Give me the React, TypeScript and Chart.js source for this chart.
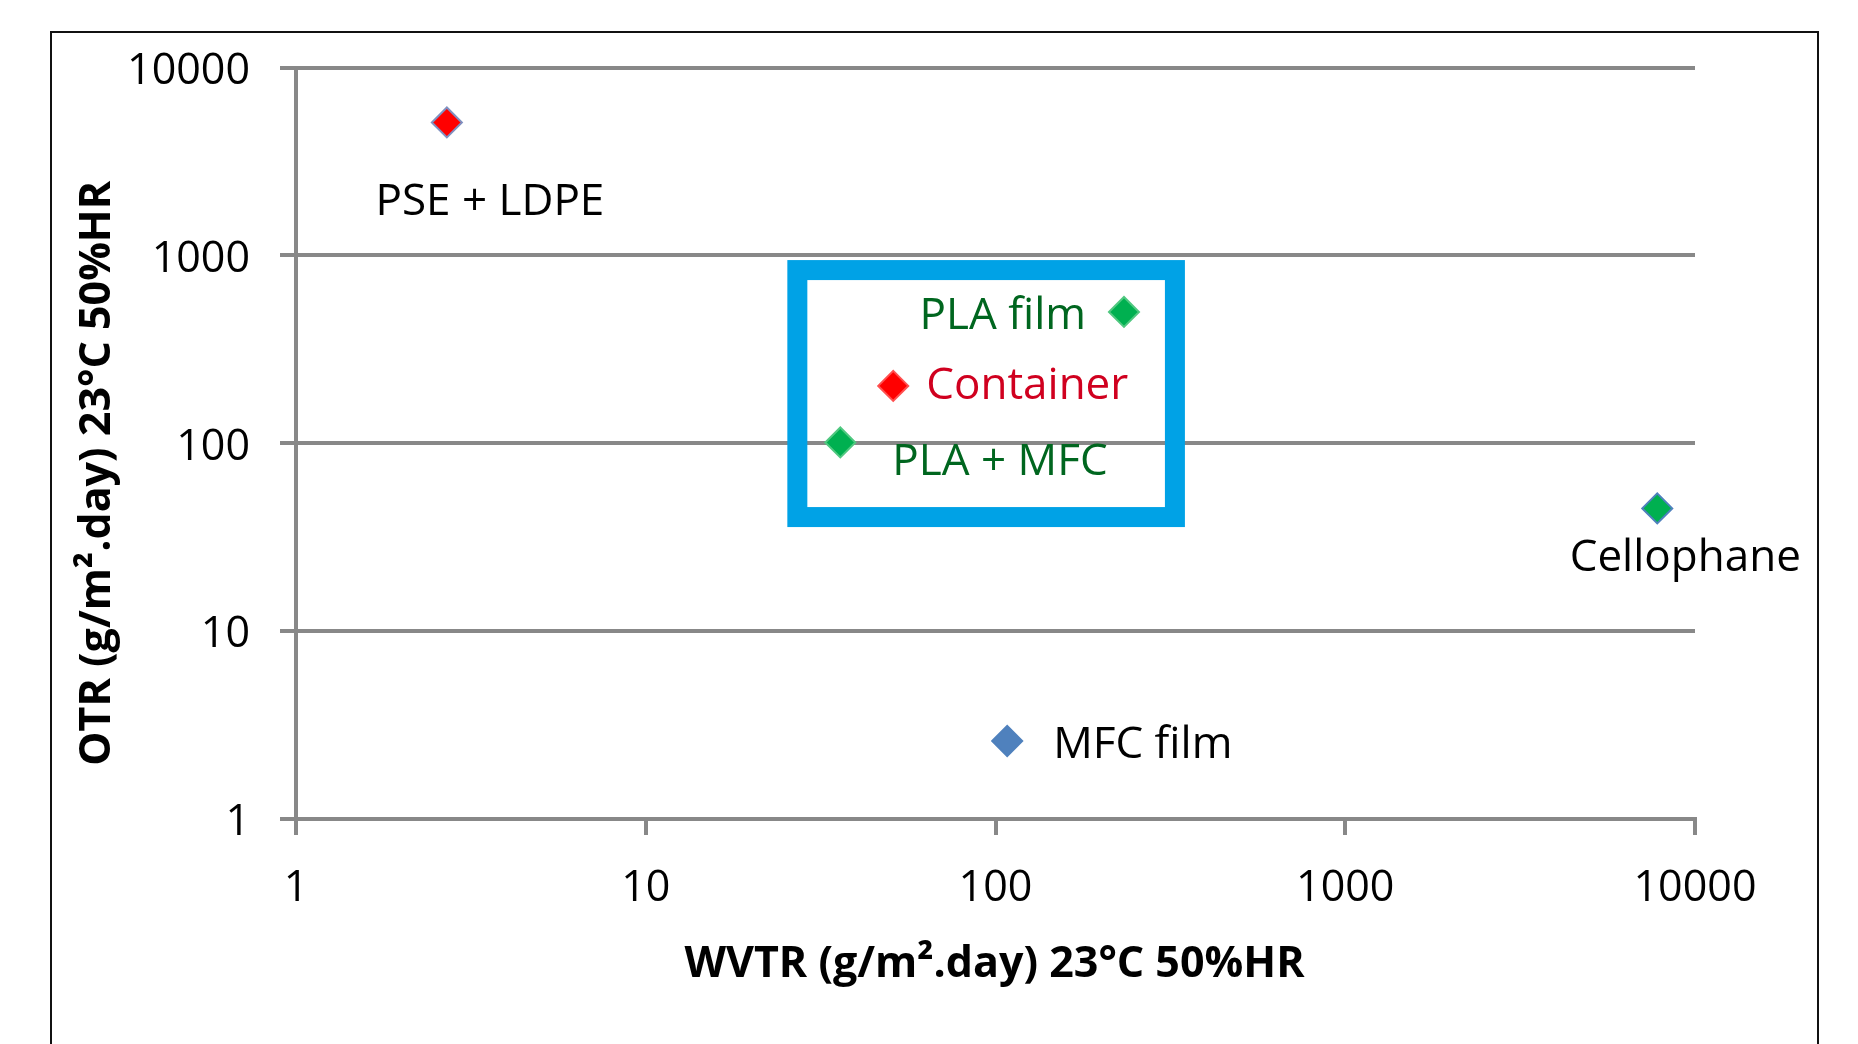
import React, { useEffect, useRef } from 'react';
import { Chart, registerables } from 'chart.js';

Chart.register(...registerables);

// ---- data ----
const materials = ['PSE + LDPE', 'PLA film', 'Container', 'PLA + MFC', 'Cellophane', 'MFC film'];
const wvtr = [2.7, 233, 51, 36, 7800, 108];
const otr = [5100, 500, 202, 101, 45, 2.6];
const tickValues = [1, 10, 100, 1000, 10000];
const tickLabels = ['1', '10', '100', '1000', '10000'];
const xTitle = 'WVTR (g/m².day) 23°C 50%HR';
const yTitle = 'OTR (g/m².day) 23°C 50%HR';
// highlighted region (data coordinates)
const highlightX = [25.4, 348];
const highlightY = [35.8, 944];

// ---- styles ----
const markerColors = ['#FF0000', '#00B050', '#FF0000', '#00B050', '#00B050', '#4F81BD'];
const markerBorders = ['#8090C0', '#50C880', '#FF5050', '#50C880', '#4F81BD', '#4F81BD'];
const labelColors = ['#000000', '#00661F', '#D0001F', '#00661F', '#000000', '#000000'];
// label placement relative to marker: dx, dy (cap centre), alignment
const labelOffsets: [number, number, CanvasTextAlign][] = [
  [43, 77, 'center'],
  [-38, 1, 'right'],
  [33, -3, 'left'],
  [52, 17, 'left'],
  [28, 47, 'center'],
  [46, 1, 'left'],
];
const FONT = "'Open Sans', 'Noto Sans', sans-serif";
const LABEL_SIZE = 44;
const TICK_SIZE = 43;

const overlayPlugin = {
  id: 'overlay',
  beforeDatasetsDraw(chart: any) {
    const { ctx, scales } = chart;
    const x = scales.x, y = scales.y;
    const x1 = x.getPixelForValue(highlightX[0]);
    const x2 = x.getPixelForValue(highlightX[1]);
    const y1 = y.getPixelForValue(highlightY[1]);
    const y2 = y.getPixelForValue(highlightY[0]);
    ctx.save();
    ctx.strokeStyle = '#00A2E6';
    ctx.lineWidth = 20;
    ctx.strokeRect(x1 + 10, y1 + 10, x2 - x1 - 20, y2 - y1 - 20);
    ctx.restore();
  },
  afterDatasetsDraw(chart: any) {
    const { ctx, chartArea } = chart;
    const meta = chart.getDatasetMeta(0);
    ctx.save();
    ctx.font = `${LABEL_SIZE}px ${FONT}`;
    ctx.textBaseline = 'alphabetic';
    meta.data.forEach((pt: any, i: number) => {
      const [dx, dy, align] = labelOffsets[i];
      ctx.fillStyle = labelColors[i];
      ctx.textAlign = align;
      ctx.fillText(materials[i], pt.x + dx, pt.y + dy + LABEL_SIZE * 0.357);
    });
    // axis titles
    ctx.fillStyle = '#000';
    ctx.font = `bold ${TICK_SIZE}px ${FONT}`;
    ctx.textAlign = 'center';
    const cx = (chartArea.left + chartArea.right) / 2;
    ctx.fillText(xTitle, cx - 1, 962 + TICK_SIZE * 0.357);
    ctx.translate(95, (chartArea.top + chartArea.bottom) / 2 + 30);
    ctx.rotate(-Math.PI / 2);
    ctx.fillText(yTitle, 0, TICK_SIZE * 0.357);
    ctx.restore();
    // outer frame
    ctx.save();
    ctx.strokeStyle = '#111';
    ctx.lineWidth = 2;
    ctx.strokeRect(51, 32, 1767, 1100);
    ctx.restore();
  },
};

export default function App() {
  const ref = useRef<HTMLCanvasElement | null>(null);
  useEffect(() => {
    if (!ref.current) return;
    const points = wvtr.map((v, i) => ({ x: v, y: otr[i] }));
    const axisCommon = {
      type: 'logarithmic' as const,
      min: 1,
      max: 10000,
      afterBuildTicks: (s: any) => {
        s.ticks = tickValues.map((v) => ({ value: v }));
      },
    };
    const chart = new Chart(ref.current, {
      type: 'scatter',
      data: {
        datasets: [
          {
            data: points,
            pointStyle: 'rectRot',
            pointRadius: 15,
            pointHoverRadius: 15,
            pointBackgroundColor: markerColors,
            pointBorderColor: markerBorders,
            pointBorderWidth: 2,
            showLine: false,
          },
        ],
      },
      options: {
        responsive: false,
        animation: false,
        events: [],
        layout: { padding: { top: 67.5, right: 163, left: 0, bottom: 0 } },
        plugins: { legend: { display: false }, tooltip: { enabled: false } },
        scales: {
          x: {
            ...axisCommon,
            afterFit: (s: any) => {
              s.height = 225;
            },
            ticks: {
              callback: (v: any) => tickLabels[tickValues.indexOf(Number(v))] ?? '',
              color: '#000',
              font: { size: TICK_SIZE, family: FONT },
              padding: 28,
              maxRotation: 0,
              autoSkip: false,
            },
            grid: { drawOnChartArea: false, drawTicks: true, tickLength: 16, color: '#888888', lineWidth: 4 },
            border: { display: true, color: '#888888', width: 4 },
          },
          y: {
            ...axisCommon,
            afterFit: (s: any) => {
              s.width = 296;
            },
            ticks: {
              callback: (v: any) => tickLabels[tickValues.indexOf(Number(v))] ?? '',
              color: '#000',
              font: { size: TICK_SIZE, family: FONT },
              padding: 30,
              labelOffset: 4,
              autoSkip: false,
            },
            grid: { drawOnChartArea: true, drawTicks: true, tickLength: 16, color: '#888888', lineWidth: 4 },
            border: { display: true, color: '#888888', width: 4 },
          },
        },
      },
      plugins: [overlayPlugin],
    });
    return () => chart.destroy();
  }, []);
  return (
    <div style={{ position: 'absolute', left: 0, top: 0, width: 1858, height: 1044, background: '#fff' }}>
      <canvas ref={ref} width={1858} height={1044} style={{ display: 'block' }} />
    </div>
  );
}
